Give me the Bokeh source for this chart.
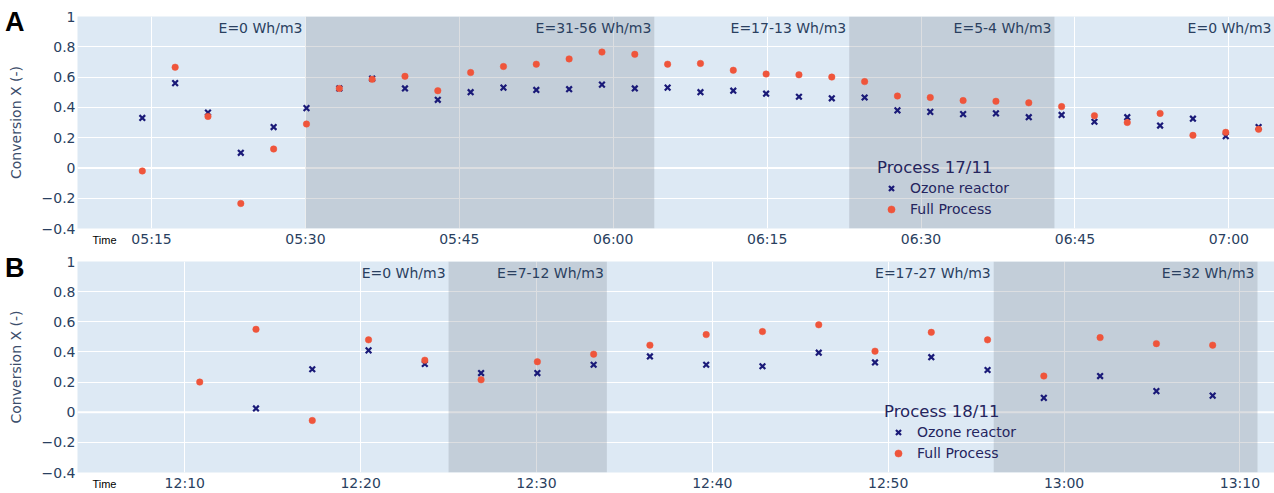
import numpy as np
import pandas as pd
from bokeh.plotting import figure
from bokeh.layouts import column
from bokeh.models import (Range1d, FixedTicker, DatetimeTickFormatter, CustomJSTickFormatter,
                          LinearAxis, Legend, LegendItem, Span)
from bokeh.core.properties import value
from bokeh.embed import file_html
from bokeh.resources import INLINE

# ---------------- data ----------------
top_date = "2021-11-17"
top_times = ["05:14:06", "05:17:18", "05:20:30", "05:23:42", "05:26:54", "05:30:06", "05:33:18",
             "05:36:30", "05:39:42", "05:42:54", "05:46:06", "05:49:18", "05:52:30", "05:55:42",
             "05:58:54", "06:02:06", "06:05:18", "06:08:30", "06:11:42", "06:14:54", "06:18:06",
             "06:21:18", "06:24:30", "06:27:42", "06:30:54", "06:34:06", "06:37:18", "06:40:30",
             "06:43:42", "06:46:54", "06:50:06", "06:53:18", "06:56:30", "06:59:42", "07:02:54"]
top_ozone = [0.33, 0.56, 0.365, 0.10, 0.27, 0.395, 0.525, 0.59, 0.525, 0.45, 0.50, 0.53, 0.515,
             0.52, 0.55, 0.525, 0.53, 0.50, 0.51, 0.49, 0.47, 0.46, 0.465, 0.38, 0.37, 0.355,
             0.36, 0.335, 0.35, 0.305, 0.335, 0.28, 0.325, 0.21, 0.27]
top_full = [-0.02, 0.665, 0.34, -0.235, 0.125, 0.29, 0.525, 0.585, 0.605, 0.51, 0.63, 0.67, 0.685,
            0.72, 0.765, 0.75, 0.685, 0.69, 0.645, 0.62, 0.615, 0.60, 0.57, 0.475, 0.465, 0.445,
            0.44, 0.43, 0.405, 0.345, 0.30, 0.36, 0.215, 0.235, 0.255]
top_shade_start = ["05:30:00", "06:23:00"]
top_shade_end = ["06:04:00", "06:43:00"]
top_ann_x = ["05:30:00", "06:04:00", "06:23:00", "06:43:00", "07:04:27"]
top_ann_text = ["E=0 Wh/m3", "E=31-56 Wh/m3", "E=17-13 Wh/m3", "E=5-4 Wh/m3", "E=0 Wh/m3"]
top_ticks = ["05:15", "05:30", "05:45", "06:00", "06:15", "06:30", "06:45", "07:00"]
top_xrange = ["05:07:47", "07:04:27"]
top_time_label_at = "05:10:25"
top_legend_title = "Process 17/11"

bot_date = "2021-11-18"
bot_times = ["12:10:51", "12:14:03", "12:17:15", "12:20:27", "12:23:39", "12:26:51", "12:30:03",
             "12:33:15", "12:36:27", "12:39:39", "12:42:51", "12:46:03", "12:49:15", "12:52:27",
             "12:55:39", "12:58:51", "13:02:03", "13:05:15", "13:08:27"]
bot_ozone = [np.nan, 0.025, 0.285, 0.41, 0.32, 0.26, 0.26, 0.315, 0.37, 0.315, 0.305, 0.395,
             0.33, 0.365, 0.28, 0.095, 0.24, 0.14, 0.11]
bot_full = [0.20, 0.55, -0.055, 0.48, 0.345, 0.215, 0.335, 0.385, 0.445, 0.515, 0.535, 0.58,
            0.405, 0.53, 0.48, 0.24, 0.495, 0.455, 0.445]
bot_shade_start = ["12:25:00", "12:56:00"]
bot_shade_end = ["12:34:00", "13:11:00"]
bot_ann_x = ["12:25:00", "12:34:00", "12:56:00", "13:11:00"]
bot_ann_text = ["E=0 Wh/m3", "E=7-12 Wh/m3", "E=17-27 Wh/m3", "E=32 Wh/m3"]
bot_ticks = ["12:10", "12:20", "12:30", "12:40", "12:50", "13:00", "13:10"]
bot_xrange = ["12:03:54", "13:11:58"]
bot_time_label_at = "12:05:26"
bot_legend_title = "Process 18/11"

y_ticks = [-0.4, -0.2, 0, 0.2, 0.4, 0.6, 0.8, 1]
y_range = [-0.4, 1.0]
series_names = ["Ozone reactor", "Full Process"]

# ---------------- style ----------------
FONT = "DejaVu Sans"
TICK_COLOR = "#2a3f5f"
BG = "#dde9f4"
SHADE = "#7f8591"
X_COLOR = "#1a1a78"
O_COLOR = "#ef553b"
LEG_COLOR = "#25255e"


def to_dt(date, times):
    return pd.to_datetime([date + " " + t for t in times])


def to_ms(date, times):
    return [int(t.value // 10**6) for t in to_dt(date, times)]


def bare(ax):
    ax.axis_line_color = None
    ax.major_tick_line_color = None
    ax.minor_tick_line_color = None
    ax.major_tick_out = 0
    ax.major_tick_in = 0
    ax.minor_tick_out = 0
    ax.minor_tick_in = 0


def make_panel(date, times, ozone, full, sh_s, sh_e, ann_x, ann_text, ticks, xr, time_at,
               leg_title, letter, letter_at, height, top_border, bottom_border, leg_x):
    dt = to_dt(date, times)
    xr_dt = to_dt(date, xr)
    p = figure(width=1274, height=height, x_axis_type="datetime",
               x_range=Range1d(start=xr_dt[0], end=xr_dt[1]),
               y_range=Range1d(start=y_range[0], end=y_range[1]),
               output_backend="svg", toolbar_location=None,
               min_border_left=77, min_border_right=0,
               min_border_top=top_border, min_border_bottom=bottom_border)
    p.background_fill_color = BG
    p.border_fill_color = "white"
    p.outline_line_color = None

    # axes
    p.xaxis.ticker = FixedTicker(ticks=to_ms(date, ticks))
    p.xaxis.formatter = DatetimeTickFormatter(minutes="%H:%M", hourmin="%H:%M", hours="%H:%M",
                                              minsec="%H:%M", seconds="%H:%M")
    p.yaxis.ticker = FixedTicker(ticks=y_ticks)
    p.yaxis.formatter = CustomJSTickFormatter(code="""
        const a = Math.abs(tick);
        let s = a.toFixed(1);
        if (s.endsWith('.0')) s = s.slice(0, -2);
        return (tick < -1e-9 ? '\u2212' : '') + s;
    """)
    for ax in (p.xaxis, p.yaxis):
        bare(ax)
        ax.major_label_text_font = FONT
        ax.major_label_text_font_size = "14px"
        ax.major_label_text_color = TICK_COLOR
    p.xaxis.major_label_standoff = 2
    p.yaxis.major_label_standoff = 2
    p.yaxis.axis_label = "Conversion X (-)"
    p.yaxis.axis_label_text_font = FONT
    p.yaxis.axis_label_text_font_size = "14px"
    p.yaxis.axis_label_text_font_style = "normal"
    p.yaxis.axis_label_text_color = "#3b4d6b"
    p.yaxis.axis_label_standoff = 15

    # small "Time" caption left of the first time tick (extra bare axis)
    t_ax = LinearAxis(ticker=FixedTicker(ticks=to_ms(date, [time_at])),
                      formatter=CustomJSTickFormatter(code="return 'Time';"),
                      major_label_standoff=-16,
                      major_label_text_font="Liberation Sans",
                      major_label_text_font_size="11px",
                      major_label_text_color="black")
    bare(t_ax)
    p.add_layout(t_ax, "below")

    # panel letter (extra bare axis on the left)
    l_ax = LinearAxis(ticker=FixedTicker(ticks=[letter_at]),
                      formatter=CustomJSTickFormatter(code="return '%s';" % letter),
                      major_label_standoff=-20,
                      major_label_text_font="Liberation Sans",
                      major_label_text_font_size="27px",
                      major_label_text_font_style="bold",
                      major_label_text_color="black")
    bare(l_ax)
    p.add_layout(l_ax, "left")

    p.xgrid.grid_line_color = "white"
    p.ygrid.grid_line_color = "white"
    p.xgrid.grid_line_width = 1
    p.ygrid.grid_line_width = 1
    p.add_layout(Span(location=0, dimension="width", line_color="white",
                      line_width=2, level="underlay"))

    # shaded periods
    p.quad(left=to_dt(date, sh_s), right=to_dt(date, sh_e),
           bottom=y_range[0], top=y_range[1],
           fill_color=SHADE, fill_alpha=0.27, line_alpha=0)

    # period annotations
    p.text(x=to_dt(date, ann_x), y=[y_range[1]] * len(ann_x), text=ann_text,
           text_align="right", text_baseline="middle", x_offset=-3, y_offset=11,
           text_font=value(FONT), text_font_size="14px", text_color=TICK_COLOR)

    rx = p.scatter(x=dt, y=np.array(ozone, dtype=float), marker="x", size=8,
                   line_width=2.2, line_color=X_COLOR)
    ro = p.scatter(x=dt, y=np.array(full, dtype=float), marker="circle", size=6.5,
                   fill_color=O_COLOR, line_color=O_COLOR, line_width=0.5)

    legend = Legend(items=[LegendItem(label=series_names[0], renderers=[rx]),
                           LegendItem(label=series_names[1], renderers=[ro])],
                    title=leg_title, location=(leg_x, 10),
                    background_fill_alpha=0, border_line_alpha=0,
                    padding=0, margin=0, spacing=3,
                    label_height=18, glyph_height=18, glyph_width=28, label_standoff=5,
                    label_text_font=FONT, label_text_font_size="14px",
                    label_text_color=LEG_COLOR,
                    title_text_font=FONT, title_text_font_size="16.5px",
                    title_text_font_style="normal", title_text_color=LEG_COLOR,
                    title_standoff=2)
    p.add_layout(legend)
    return p


p1 = make_panel(top_date, top_times, top_ozone, top_full, top_shade_start, top_shade_end,
                top_ann_x, top_ann_text, top_ticks, top_xrange, top_time_label_at,
                top_legend_title, "A", 0.965, height=250, top_border=16, bottom_border=22,
                leg_x=800)
p2 = make_panel(bot_date, bot_times, bot_ozone, bot_full, bot_shade_start, bot_shade_end,
                bot_ann_x, bot_ann_text, bot_ticks, bot_xrange, bot_time_label_at,
                bot_legend_title, "B", 0.99, height=243, top_border=11, bottom_border=20,
                leg_x=807)

layout = column(p1, p2, spacing=0)
open("out.html", "w").write(file_html(layout, INLINE))
